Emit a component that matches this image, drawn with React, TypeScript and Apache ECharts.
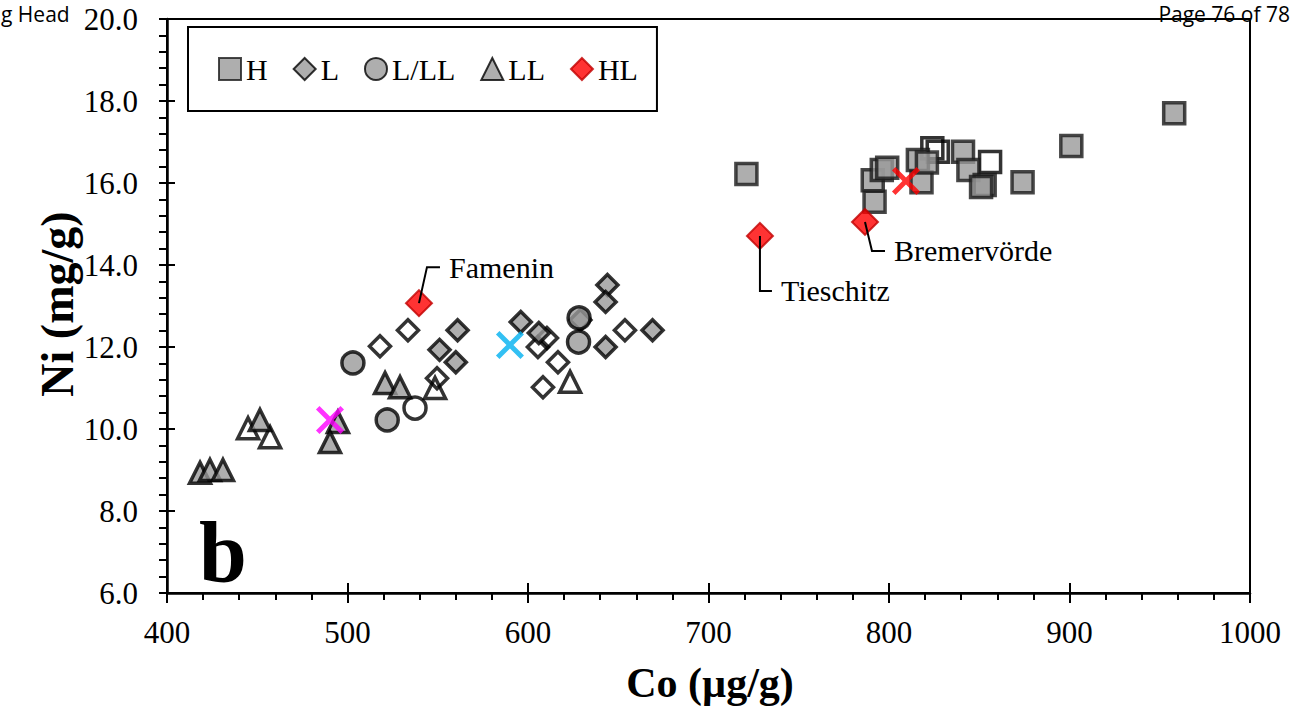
import React, { useEffect, useRef } from "react";
import * as echarts from "echarts";

// ---- data (Co µg/g, Ni mg/g) ----
const hCo = [721, 792, 791, 796, 799, 816, 818, 821, 841, 844, 853, 851, 874, 901, 958];
const hNi = [16.22, 15.54, 16.07, 16.32, 16.37, 16.56, 16.02, 16.5, 16.76, 16.32, 15.95, 15.9, 16.02, 16.9, 17.7];
const hOpenCo = [824, 827, 856];
const hOpenNi = [16.85, 16.76, 16.51];

const lCo = [561, 551, 560, 596, 606, 629, 644, 643, 643, 669];
const lNi = [12.41, 11.93, 11.63, 12.61, 12.34, 12.66, 13.51, 13.1, 12.0, 12.41];
const lOpenCo = [518, 533.5, 549.6, 610.5, 605.5, 616.6, 608.3, 653.7];
const lOpenNi = [12.02, 12.41, 11.24, 12.22, 12.0, 11.63, 11.02, 12.41];

const lllCo = [503, 522, 628, 628.3];
const lllNi = [11.61, 10.22, 12.12, 12.71];
const lllOpenCo = [537.4];
const lllOpenNi = [10.51];

const llCo = [418.3, 423.8, 431, 451.5, 494.7, 490.3, 520.8, 529.1];
const llNi = [8.93, 9.0, 9.0, 10.22, 10.17, 9.68, 11.12, 11.02];
const llOpenCo = [444.9, 457.1, 548.5, 623.3];
const llOpenNi = [10.02, 9.8, 11.0, 11.15];

const hlCo = [539.6, 728.5, 786.7];
const hlNi = [13.07, 14.71, 15.05];
const hlNames = ["Famenin", "Tieschitz", "Bremervörde"];

const crossCo = [490.3, 590.0, 809.4];
const crossNi = [10.22, 12.05, 16.05];
const crossColors = ["#ff00ff", "#00b0f0", "#ff0000"];

const legendNames = ["H", "L", "L/LL", "LL", "HL"];
const xTicks = { min: 400, max: 1000, interval: 100 };
const yTicks = { min: 6, max: 20, interval: 2 };
const xTickValues = [400, 500, 600, 700, 800, 900, 1000];
const xTickLabels = ["400", "500", "600", "700", "800", "900", "1000"];
const yTickValues = [6, 8, 10, 12, 14, 16, 18, 20];
const yTickLabels = ["6.0", "8.0", "10.0", "12.0", "14.0", "16.0", "18.0", "20.0"];

const FONT = "Liberation Serif";
const SANS = "Open Sans";

const zip = (a: number[], b: number[]) => a.map((v, i) => [v, b[i]]);

const XPATH =
  "path://M0,3.5L3.5,0L14,10.5L24.5,0L28,3.5L17.5,14L28,24.5L24.5,28L14,17.5L3.5,28L0,24.5L10.5,14Z";

// leader offsets for labels: [elbow dx, elbow dy, horizontal length]
const leaderOffsets = [
  [8, -36, 13],
  [0, 55, 12],
  [7, 29, 13],
];

export default function App() {
  const ref = useRef<HTMLDivElement>(null);
  useEffect(() => {
    if (!ref.current) return;
    const chart = echarts.init(ref.current, undefined, { renderer: "svg" });
    const grey = "#9a9a9a";
    const open = { color: "rgba(255,255,255,0)", borderColor: "#000", borderWidth: 3.5 };
    const filled = { color: grey, borderColor: "#000", borderWidth: 3.5 };

    const mainX = {
      type: "value",
      ...xTicks,
      axisLine: { show: true, onZero: false, lineStyle: { color: "#000", width: 2.5 } },
      axisTick: { show: true, inside: false, length: 10, lineStyle: { color: "#000", width: 2 } },
      minorTick: { show: true, splitNumber: 5, length: 7, lineStyle: { color: "#000", width: 2 } },
      splitLine: { show: false },
      minorSplitLine: { show: false },
      axisLabel: { show: false },
    };
    const overX = {
      type: "value",
      ...xTicks,
      position: "bottom",
      axisLine: { show: false },
      axisTick: { show: true, inside: true, length: 10, lineStyle: { color: "#000", width: 2 } },
      axisLabel: { show: false },
      splitLine: { show: false },
    };
    const mainY = {
      type: "value",
      ...yTicks,
      axisLine: { show: true, onZero: false, lineStyle: { color: "#000", width: 2.5 } },
      axisTick: { show: true, inside: false, length: 8, lineStyle: { color: "#000", width: 2 } },
      minorTick: { show: true, splitNumber: 5, length: 8, lineStyle: { color: "#000", width: 2 } },
      splitLine: { show: false },
      minorSplitLine: { show: false },
      axisLabel: { show: false },
    };
    const overY = {
      type: "value",
      ...yTicks,
      position: "left",
      axisLine: { show: false },
      axisTick: { show: true, inside: true, length: 8, lineStyle: { color: "#000", width: 2 } },
      axisLabel: { show: false },
      splitLine: { show: false },
    };

    const sc = (name: string, symbol: string, size: number, style: any, data: number[][], z = 3) => ({
      name,
      type: "scatter",
      symbol,
      symbolSize: size,
      itemStyle: style,
      data,
      z,
      silent: true,
      emphasis: { disabled: true },
    });

    const series: any[] = [
      sc("H-open", "rect", 21, open, zip(hOpenCo, hOpenNi)),
      sc("L-open", "diamond", 21, open, zip(lOpenCo, lOpenNi)),
      sc("L/LL-open", "circle", 22, open, zip(lllOpenCo, lllOpenNi)),
      sc("LL-open", "triangle", 21, open, zip(llOpenCo, llOpenNi)),
      sc("H", "rect", 21, { color: grey, borderColor: "#1a1a1a", borderWidth: 3.5 }, zip(hCo, hNi)),
      sc("L", "diamond", 21, filled, zip(lCo, lNi)),
      sc("L/LL", "circle", 22, filled, zip(lllCo, lllNi)),
      sc("LL", "triangle", 21, filled, zip(llCo, llNi)),
      sc("HL", "diamond", 26, { color: "#ff0000", borderColor: "#c00000", borderWidth: 2 }, zip(hlCo, hlNi), 4),
      ...crossCo.map((c, i) =>
        sc("X" + i, XPATH, 28, { color: crossColors[i], borderWidth: 0 }, [[c, crossNi[i]]], 5)
      ),
    ];

    chart.setOption({
      animation: false,
      backgroundColor: "#fff",
      textStyle: { fontFamily: FONT },
      grid: {
        left: 167,
        top: 19,
        width: 1083,
        height: 574,
        show: true,
        borderColor: "#000",
        borderWidth: 2,
        backgroundColor: "transparent",
      },
      xAxis: [mainX, overX],
      yAxis: [mainY, overY],
      legend: {
        data: legendNames,
        left: 188,
        top: 27,
        orient: "horizontal",
        itemGap: 25,
        itemWidth: 22,
        itemHeight: 22,
        padding: [27, 19, 27, 30],
        borderColor: "#000",
        borderWidth: 2,
        borderRadius: 0,
        backgroundColor: "#fff",
        selectedMode: false,
        textStyle: { fontFamily: FONT, fontSize: 30, color: "#000" },
      },
      series,
    });

    const pix = (x: number, y: number) =>
      chart.convertToPixel({ xAxisIndex: 0, yAxisIndex: 0 }, [x, y]) as number[];

    const graphics: any[] = [];
    xTickValues.forEach((v, i) => {
      const p = pix(v, yTicks.min);
      graphics.push({
        type: "text",
        z: 100,
        x: p[0],
        y: p[1] + 39,
        style: { text: xTickLabels[i], font: `31px "${FONT}"`, fill: "#000", align: "center", verticalAlign: "middle" },
      });
    });
    yTickValues.forEach((v, i) => {
      const p = pix(xTicks.min, v);
      graphics.push({
        type: "text",
        z: 100,
        x: p[0] - 29,
        y: p[1],
        style: { text: yTickLabels[i], font: `31px "${FONT}"`, fill: "#000", align: "right", verticalAlign: "middle" },
      });
    });

    hlCo.forEach((c, i) => {
      const p = pix(c, hlNi[i]);
      const [dx, dy, len] = leaderOffsets[i];
      const ex = p[0] + dx;
      const ey = p[1] + dy;
      graphics.push({
        type: "polyline",
        z: 100,
        shape: { points: [[p[0], p[1]], [ex, ey], [ex + len, ey]] },
        style: { stroke: "#000", lineWidth: 2, fill: null },
      });
      graphics.push({
        type: "text",
        z: 100,
        x: ex + len + 9,
        y: ey,
        style: {
          text: hlNames[i],
          font: `30px "${FONT}"`,
          fill: "#000",
          align: "left",
          verticalAlign: "middle",
        },
      });
    });

    chart.setOption({
      graphic: [
        ...graphics,
        {
          type: "text",
          z: 100,
          x: 57,
          y: 304,
          rotation: Math.PI / 2,
          style: {
            text: "Ni (mg/g)",
            font: `bold 46px "${FONT}"`,
            fill: "#000",
            align: "center",
            verticalAlign: "middle",
          },
        },
        {
          type: "text",
          z: 100,
          x: 710,
          y: 683,
          style: {
            text: "Co (µg/g)",
            font: `bold 42px "${FONT}"`,
            fill: "#000",
            align: "center",
            verticalAlign: "middle",
          },
        },
        {
          type: "text",
          z: 100,
          x: 199,
          y: 552,
          style: {
            text: "b",
            font: `bold 86px "${FONT}"`,
            fill: "#000",
            align: "left",
            verticalAlign: "middle",
          },
        },
        {
          type: "text",
          z: 100,
          x: 1,
          y: 14,
          style: { text: "g Head", font: `21px "${SANS}"`, fill: "#000", align: "left", verticalAlign: "middle" },
        },
        {
          type: "text",
          z: 100,
          x: 1290,
          y: 14,
          style: { text: "Page 76 of 78", font: `21px "${SANS}"`, fill: "#000", align: "right", verticalAlign: "middle" },
        },
      ],
    });

    return () => chart.dispose();
  }, []);

  return (
    <div
      ref={ref}
      style={{ position: "fixed", left: 0, top: 0, width: 1300, height: 709, background: "#fff" }}
    />
  );
}
